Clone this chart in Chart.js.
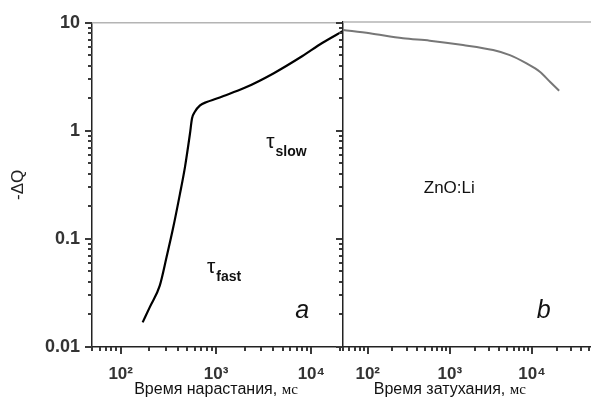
<!DOCTYPE html>
<html><head><meta charset="utf-8">
<script src="https://cdn.jsdelivr.net/npm/chart.js@4.4.1/dist/chart.umd.min.js"></script>
<style>
html,body{margin:0;padding:0;background:#fff;}
#wrap{position:relative;width:591px;height:399px;overflow:hidden;background:#fff;}
#ca{position:absolute;left:0;top:0;}
#cb{position:absolute;left:300px;top:0;}
</style></head><body>
<div id="wrap"><canvas id="ca" width="350" height="399"></canvas><canvas id="cb" width="291" height="399"></canvas></div>
<script>
// ---- data ----
const riseTimes = [170, 202, 257, 303, 356, 418, 472, 532, 560, 600, 680, 800, 1000, 1200, 2000, 4000, 8000, 13000, 21500];
const riseQ     = [0.0169, 0.0234, 0.037, 0.068, 0.128, 0.26, 0.46, 0.93, 1.3, 1.5, 1.72, 1.85, 1.98, 2.1, 2.5, 3.4, 4.9, 6.5, 8.4];
const decayTimes = [50, 106, 269, 570, 1450, 3370, 5390, 8610, 12500, 16600, 21500];
const decayQ     = [8.44, 7.86, 7.07, 6.72, 6.13, 5.51, 4.95, 4.15, 3.48, 2.81, 2.32];
const xTickValues = [100, 1000, 10000];
const xTickLabels = ['10²', '10³', '10⁴'];
const yTickValues = [0.01, 0.1, 1, 10];
const yTickLabels = ['0.01', '0.1', '1', '10'];
const riseRange = [50, 21500];
const decayRange = [50, 52500];
const qRange = [0.01, 10];
const yTitle = '-ΔQ';
const riseTitle = ['Время нарастания,', 'мс'];
const decayTitle = ['Время затухания,', 'мс'];

const FONT = "'Liberation Sans', Arial, sans-serif";
const SERIF = "'Liberation Serif', 'Times New Roman', serif";

function findLabel(v, vals, labels){
  for(let i=0;i<vals.length;i++){ if(Math.abs(v/vals[i]-1)<1e-6) return labels[i]; }
  return '';
}
function tickList(min,max){
  const out=[];
  for(let e=-3;e<=6;e++) for(let m=1;m<=9;m++){
    const v=m*Math.pow(10,e);
    if(v>=min*0.9999 && v<=max*1.0001) out.push({v:v, major:(m===1)});
  }
  return out;
}
function makePlugin(cfg){
  return {
    id:'tickMarks'+cfg.name,
    afterDraw(chart){
      const ctx=chart.ctx, A=chart.chartArea, xs=chart.scales.x, ys=chart.scales.y;
      ctx.save();
      ctx.setLineDash([]);
      ctx.strokeStyle='#b4b4b4'; ctx.lineWidth=1.5;
      ctx.beginPath(); ctx.moveTo(A.left, A.top); ctx.lineTo(A.right, A.top); ctx.stroke();
      ctx.fillStyle='#3a3a3a';
      const xt=tickList(cfg.xr[0], cfg.xr[1]);
      for(let i=0;i<xt.length;i++){
        const t=xt[i];
        const px=Math.round(xs.getPixelForValue(t.v));
        ctx.fillRect(px-1, A.bottom, 2, t.major?7:4);
      }
      if(cfg.yTicks){
        const yt=tickList(qRange[0], qRange[1]);
        for(let i=0;i<yt.length;i++){
          const t=yt[i];
          const py=Math.round(ys.getPixelForValue(t.v));
          const L=t.major?7:4;
          ctx.fillRect(A.left-L, py-1, L, 2);
          ctx.fillRect(A.right-L, py-1, L, 2);
        }
      }
      const tt=cfg.title;
      const cx=xs.getPixelForValue(1000);
      ctx.font='16px '+FONT; const w1=ctx.measureText(tt[0]+' ').width;
      ctx.font='15px '+SERIF; const w2=ctx.measureText(tt[1]).width;
      const x0=cx-(w1+w2)/2; const by=chart.height-5;
      ctx.fillStyle='#111'; ctx.textBaseline='alphabetic'; ctx.textAlign='left';
      ctx.font='16px '+FONT; ctx.fillText(tt[0], x0, by);
      ctx.font='15px '+SERIF; ctx.fillText(tt[1], x0+w1, by);
      for(const n of cfg.notes){
        const px=xs.getPixelForValue(n.x), py=ys.getPixelForValue(n.y);
        ctx.fillStyle='#111';
        ctx.font=n.font; ctx.fillText(n.text, px, py);
        if(n.sub){ const w=ctx.measureText(n.text).width; ctx.font=n.subFont; ctx.fillText(n.sub, px+w+1, py+n.subDy); }
      }
      ctx.restore();
    }
  };
}

function zeroPad(s){ s.paddingLeft=0; s.paddingRight=0; }
function baseOptions(xRange, padRight, yWidth, showY){
  return {
    responsive:false, animation:false, devicePixelRatio:1,
    layout:{padding:{top:22,right:padRight,left:0,bottom:0}},
    plugins:{legend:{display:false}, tooltip:{enabled:false}},
    scales:{
      x:{type:'logarithmic', min:xRange[0], max:xRange[1],
         grid:{display:false, drawTicks:false}, border:{display:true,color:'#222',width:1.5},
         ticks:{autoSkip:false,maxRotation:0,minRotation:0,padding:17,color:'#333',
                font:{family:FONT,size:17,weight:'bold'},
                callback:(v)=>findLabel(v,xTickValues,xTickLabels)},
         afterFit:(s)=>{s.height=52; zeroPad(s);}},
      y:{type:'logarithmic', min:qRange[0], max:qRange[1],
         grid:{display:false, drawTicks:false}, border:{display:true,color:'#222',width:1.5},
         ticks:{display:showY,autoSkip:false,padding:12,color:'#333',
                font:{family:FONT,size:18,weight:'bold'},
                callback:(v)=>findLabel(v,yTickValues,yTickLabels)},
         title:{display:showY,text:yTitle,color:'#222',font:{family:FONT,size:17},padding:{top:8,bottom:0}},
         afterFit:(s)=>{s.width=yWidth;}}
    }
  };
}

new Chart(document.getElementById('ca'), {
  type:'line',
  data:{datasets:[{data:riseTimes.map((t,i)=>({x:t,y:riseQ[i]})), borderColor:'#000', borderWidth:2.2,
    pointRadius:0, cubicInterpolationMode:'monotone', fill:false}]},
  options:baseOptions(riseRange, 7, 92, true),
  plugins:[makePlugin({name:'A', xr:riseRange, yTicks:true, title:riseTitle, notes:[
    {x:3360, y:0.70, text:'τ', font:'21px '+FONT, sub:'slow', subFont:'bold 14px '+FONT, subDy:8},
    {x:804, y:0.048, text:'τ', font:'21px '+FONT, sub:'fast', subFont:'bold 14px '+FONT, subDy:8},
    {x:6790, y:0.0184, text:'a', font:'italic 25px '+FONT}
  ]})]
});
new Chart(document.getElementById('cb'), {
  type:'line',
  data:{datasets:[{data:decayTimes.map((t,i)=>({x:t,y:decayQ[i]})), borderColor:'#777', borderWidth:2,
    pointRadius:0, cubicInterpolationMode:'monotone', fill:false}]},
  options:baseOptions(decayRange, 0, 43, false),
  plugins:[makePlugin({name:'B', xr:decayRange, yTicks:false, title:decayTitle, notes:[
    {x:482, y:0.263, text:'ZnO:Li', font:'17px '+FONT},
    {x:11500, y:0.0184, text:'b', font:'italic 25px '+FONT}
  ]})]
});
</script>
</body></html>
